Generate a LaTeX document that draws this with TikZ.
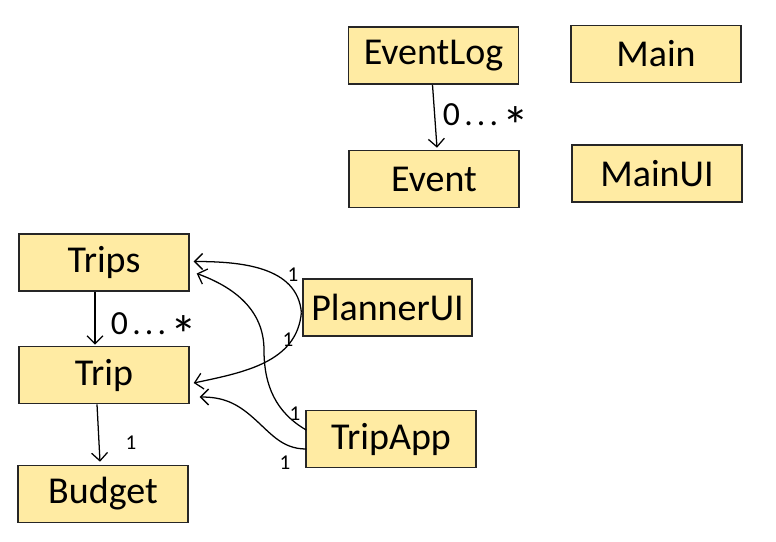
\documentclass[tikz,border=0pt]{standalone}
\usepackage{fontspec}
\setmainfont{Carlito}
\usetikzlibrary{arrows.meta,positioning,calc}
\definecolor{boxFill}{HTML}{FFEBA3}
\definecolor{boxLine}{HTML}{262626}
\newcommand{\manystar}{\raisebox{-1.15ex}{\fontsize{38}{38}\selectfont *}}

\begin{document}
\begin{tikzpicture}[x=0.025cm,y=-0.025cm,
  cls/.style={draw=boxLine,line width=1pt,fill=boxFill,minimum width=4.25cm,minimum height=1.43cm,inner sep=0pt,font=\fontsize{27}{30}\selectfont},
  arr/.style={-{Straight Barb[length=2mm,width=4mm]},line width=0.9pt},
  mult/.style={inner sep=0pt,font=\fontsize{24}{26}\selectfont},
  one/.style={inner sep=0pt,font=\fontsize{15}{17}\selectfont}
]
\useasboundingbox (0,0) rectangle (776,541);
\node[cls] (evlog) at (433.5,55.5) {EventLog};
\node[cls] (event) at (434,179) {Event};
\node[cls] (main) at (656,54) {Main};
\node[cls] (mainui) at (657,173.5) {MainUI};
\node[cls] (trips) at (104,262.5) {Trips};
\node[cls] (trip) at (104,375) {Trip};
\node[cls] (budget) at (103,494) {Budget};
\node[cls,minimum width=4.22cm] (plannerui) at (387.5,307.5) {PlannerUI};
\node[cls] (tripapp) at (391,439) {TripApp};

% straight links
\draw[arr] ($(evlog.south)+(-1,0)$) -- ($(event.north)+(3,-2)$);
\draw[arr] ($(trips.south)+(-9,0)$) -- ($(trip.north)+(-9,-1)$);
\draw[arr] ($(trip.south)+(-7,0)$) -- ($(budget.north)+(-3,-3)$);

% curved links
\draw[arr] ($(plannerui.west)+(-1,5)$) to[out=95,in=0] ($(trips.east)+(4,-1)$);
\draw[arr] ($(plannerui.west)+(-1,5)$) to[out=-95,in=12] ($(trip.east)+(4,8)$);
\draw[arr] ($(tripapp.west)+(1,-9)$) to[out=150,in=-90] (264,350) to[out=90,in=-20] ($(trips.east)+(7,11)$);
\draw[arr] ($(tripapp.west)+(1,10)$) to[out=180,in=-40] (250,415) to[out=140,in=0] ($(trip.east)+(10,22)$);

% multiplicities
\node[mult] (mEv) at (486,124) {0\kern3pt.\kern3pt.\kern3pt.\kern3pt\manystar};
\node[mult] (mTr) at (154,333) {0\kern3pt.\kern3pt.\kern3pt.\kern3pt\manystar};
\node[one] (mBu) at (131,443) {1};
\node[one] (mPa) at (293,275) {1};
\node[one] (mPb) at (288,340) {1};
\node[one] (mAa) at (295,414) {1};
\node[one] (mAb) at (285,463) {1};
\end{tikzpicture}
\end{document}
